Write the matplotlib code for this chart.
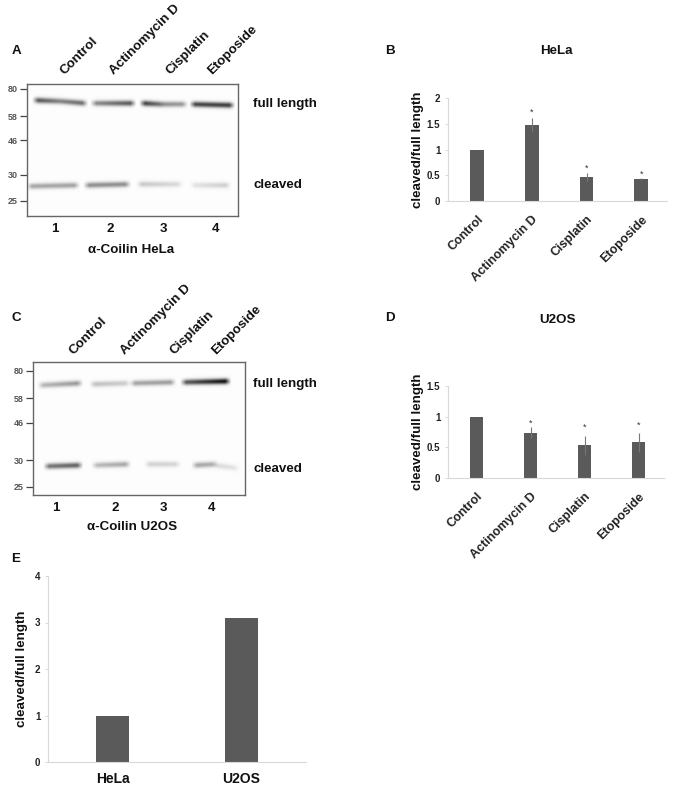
import matplotlib
matplotlib.use('Agg')
import matplotlib.pyplot as plt
import matplotlib.transforms as mtrans
import numpy as np

plt.rcParams['font.family'] = ['Liberation Sans', 'DejaVu Sans']

W, H = 674, 788

treatments = ['Control', 'Actinomycin D', 'Cisplatin', 'Etoposide']
mw_labels = ['80', '58', '46', '30', '25']

hela_vals = [1, 1.48, 0.47, 0.42]
hela_err = [0, 0.14, 0.08, 0.02]
hela_star = [None, 1.72, 0.63, 0.52]

u2os_vals = [1, 0.74, 0.53, 0.58]
u2os_err = [0, 0.09, 0.16, 0.16]
u2os_star = [None, 0.90, 0.82, 0.86]

lines = ['HeLa', 'U2OS']
line_vals = [1, 3.1]

# bands: x start, x end, y start, y end, darkness start, darkness end
blot_a_bands = [
    (35, 60, 100, 101, 0.7, 0.5), (60, 85, 101, 103, 0.5, 0.6),
    (93, 133, 103, 103, 0.45, 0.7),
    (142, 162, 103, 104, 0.8, 0.55), (162, 185, 104, 104, 0.45, 0.4),
    (192, 232, 104, 105, 0.75, 0.8),
    (29, 77, 186, 185, 0.35, 0.37),
    (86, 128, 185, 184, 0.45, 0.45),
    (139, 180, 184, 184, 0.22, 0.14),
    (192, 228, 185, 185, 0.1, 0.2),
]
blot_c_bands = [
    (40, 80, 385, 383, 0.28, 0.42),
    (92, 128, 384, 383, 0.25, 0.2),
    (132, 173, 383, 382, 0.36, 0.4),
    (183, 228, 382, 381, 0.65, 1.0),
    (46, 80, 466, 465, 0.55, 0.65),
    (94, 128, 465, 464, 0.27, 0.36),
    (147, 178, 464, 464, 0.18, 0.16),
    (194, 215, 465, 464, 0.36, 0.32), (215, 237, 465, 468, 0.15, 0.1),
]


def px_axes(left, top, right, bottom):
    return fig.add_axes([left / W, 1 - bottom / H, (right - left) / W, (bottom - top) / H])


def blot(box, bands, mw_y):
    left, top, right, bottom = box
    ax = px_axes(left, top, right, bottom)
    yy, xx = np.mgrid[top:bottom:0.5, left:right:0.5]
    img = np.zeros(xx.shape)
    for x0, x1, y0, y1, d0, d1 in bands:
        t = np.clip((xx - x0) / (x1 - x0), 0, 1)
        yc = y0 + (y1 - y0) * t
        edge = np.clip((xx - x0 + 3) / 6, 0, 1) * np.clip((x1 - xx + 3) / 6, 0, 1)
        img += (d0 + (d1 - d0) * t) * edge * np.exp(-((yy - yc) / 2.8) ** 2)
    ax.imshow(1 - 0.95 * np.clip(img, 0, 1) - 0.01, cmap='gray', vmin=0, vmax=1,
              extent=(left, right, bottom, top), aspect='auto', interpolation='bilinear')
    for s in ax.spines.values():
        s.set_color('#666666')
        s.set_linewidth(1.0)
    ax.set_xticks([])
    ax.set_yticks(mw_y)
    ax.set_yticklabels(mw_labels, fontsize=6.5, color='#555555', fontweight='bold')
    ax.tick_params(axis='y', length=5, width=0.9, color='#444444', pad=1.5)
    return ax


def bars(box, vals, err, star, ymax, yticks, yticklabels):
    ax = px_axes(*box)
    x = np.arange(len(vals))
    ax.bar(x, vals, width=0.25, color='#5a5a5a', yerr=err,
           error_kw=dict(ecolor='#777777', elinewidth=0.8, capsize=0))
    for i, s in enumerate(star):
        if s is not None:
            ax.text(i, s, '*', ha='center', va='center', fontsize=6.5, color='#333333')
    ax.set_xlim(-0.53, len(vals) - 0.53)
    ax.set_ylim(0, ymax)
    ax.set_yticks(yticks)
    ax.set_yticklabels(yticklabels, fontsize=7, fontweight='bold', color='#222222')
    ax.set_xticks(x)
    ax.set_xticklabels(treatments, rotation=45, ha='right', rotation_mode='anchor',
                       fontsize=9, fontweight='bold', color='#222222')
    shift = mtrans.ScaledTranslation(-3 / 100, 0, fig.dpi_scale_trans)
    for t in ax.get_xticklabels():
        t.set_transform(t.get_transform() + shift)
    ax.tick_params(axis='x', length=0, pad=9)
    ax.tick_params(axis='y', length=2.5, width=0.7, color='#d9d9d9', pad=3)
    for k in ['top', 'right']:
        ax.spines[k].set_visible(False)
    for k in ['left', 'bottom']:
        ax.spines[k].set_color('#d9d9d9')
        ax.spines[k].set_linewidth(0.8)
    ax.set_ylabel('cleaved/full length', fontsize=9.6, fontweight='bold', labelpad=2, color='#111111')
    return ax


fig = plt.figure(figsize=(W / 100, H / 100), dpi=100)

overlay = fig.add_axes([0, 0, 1, 1])
overlay.set_xlim(0, W)
overlay.set_ylim(H, 0)
overlay.axis('off')


def label(x, y, s, size=9.6, **kw):
    overlay.text(x, y + 1.5, s, fontsize=size, fontweight='bold', color='#111111', va='center', **kw)


blot((27, 84, 238, 216), blot_a_bands, [89, 116, 140, 175, 201])
blot((33, 362, 245, 495), blot_c_bands, [371, 398, 423, 460, 487])

bars((448, 98, 667, 201), hela_vals, hela_err, hela_star, 2, [0, 0.5, 1, 1.5, 2], ['0', '0.5', '1', '1.5', '2'])
bars((448, 386, 664, 478), u2os_vals, u2os_err, u2os_star, 1.5, [0, 0.5, 1, 1.5], ['0', '0.5', '1', '1.5'])

ax_e = px_axes(48, 576, 306, 762)
ax_e.bar(np.arange(2), line_vals, width=0.25, color='#5a5a5a')
ax_e.set_xlim(-0.5, 1.5)
ax_e.set_ylim(0, 4)
ax_e.set_yticks([0, 1, 2, 3, 4])
ax_e.set_yticklabels(['0', '1', '2', '3', '4'], fontsize=7, fontweight='bold', color='#222222')
ax_e.set_xticks([0, 1])
ax_e.set_xticklabels(lines, fontsize=10, fontweight='bold', color='#111111')
ax_e.tick_params(axis='x', length=0, pad=7.5)
ax_e.tick_params(axis='y', length=2.5, width=0.7, color='#d9d9d9', pad=3)
for k in ['top', 'right']:
    ax_e.spines[k].set_visible(False)
for k in ['left', 'bottom']:
    ax_e.spines[k].set_color('#d9d9d9')
    ax_e.spines[k].set_linewidth(0.8)
ax_e.set_ylabel('cleaved/full length', fontsize=9.6, fontweight='bold', labelpad=5, color='#111111')

for s, x, y in [('A', 16, 49), ('B', 390, 49), ('C', 16, 316), ('D', 390, 316), ('E', 16, 558)]:
    label(x, y, s, ha='center')
label(556, 49, 'HeLa', ha='center')
label(557, 318, 'U2OS', ha='center')

for name, xa, xc in zip(treatments, [62, 112, 168, 210], [71, 123, 172, 214]):
    label(xa, 71, name, rotation=45, rotation_mode='anchor', ha='left')
    label(xc, 351, name, rotation=45, rotation_mode='anchor', ha='left')

for n, xa, xc in zip(['1', '2', '3', '4'], [55, 110, 163, 216], [56, 115, 163, 212]):
    label(xa, 227, n, ha='center')
    label(xc, 506, n, ha='center')

label(131, 248, 'α-Coilin HeLa', ha='center')
label(132, 526, 'α-Coilin U2OS', ha='center')
label(253, 102, 'full length', ha='left')
label(253, 183, 'cleaved', ha='left')
label(253, 382, 'full length', ha='left')
label(253, 467, 'cleaved', ha='left')

fig.savefig('out.png', dpi=100)
